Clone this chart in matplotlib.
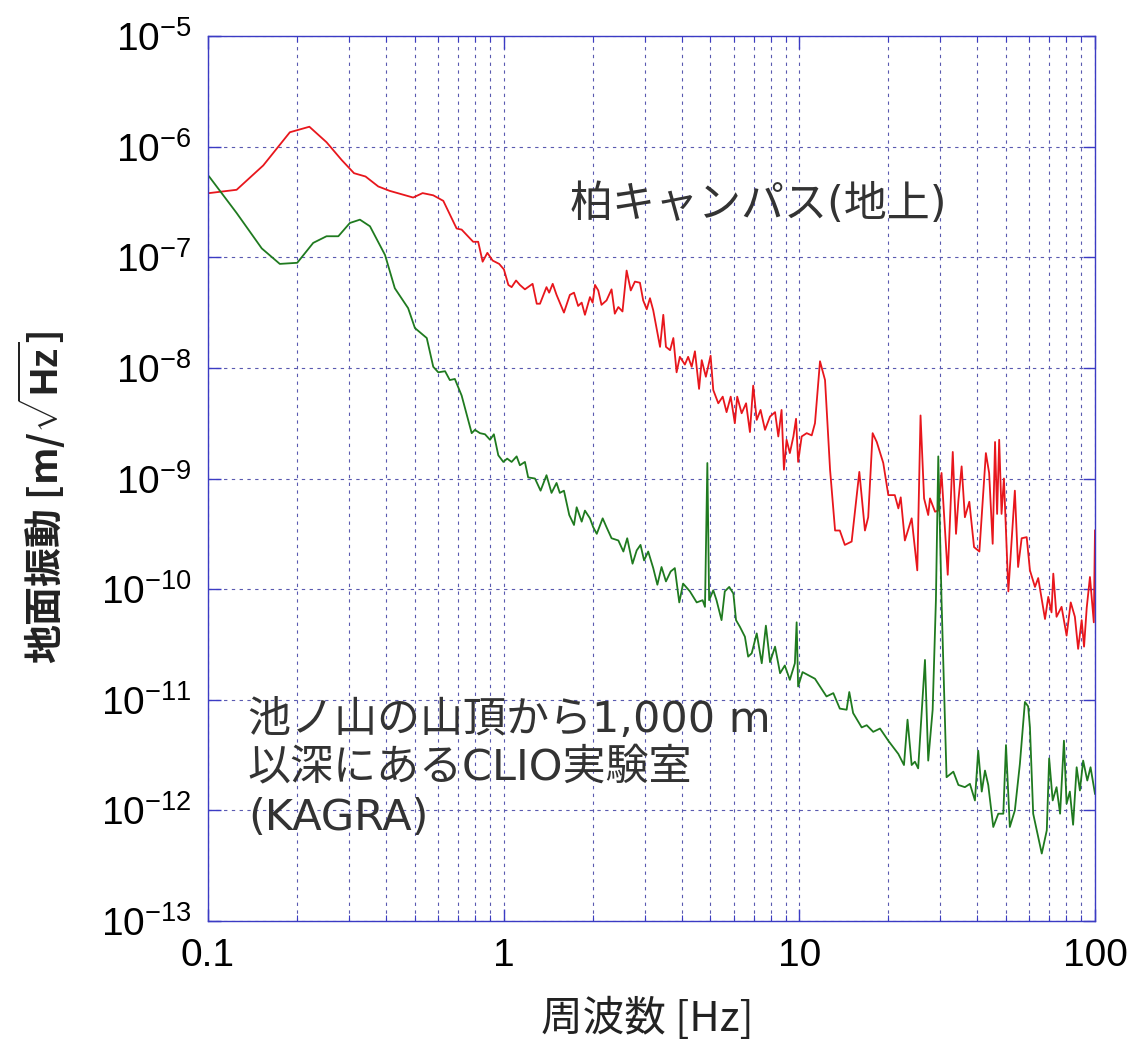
import numpy as np
import matplotlib.pyplot as plt
from matplotlib.ticker import FixedLocator, FuncFormatter, LogLocator, NullLocator, LogFormatterSciNotation

# ground vibration spectra (log10 of frequency [Hz], log10 of ASD [m/rtHz])
kashiwa_log10_f = [-0.996, -0.903, -0.813, -0.723, -0.657, -0.599, -0.548, -0.506, -0.467, -0.424,
                   -0.385, -0.306, -0.274, -0.238, -0.204, -0.159, -0.142, -0.103, -0.086, -0.071,
                   -0.055, -0.037, -0.015, 0.001, 0.016, 0.027, 0.042, 0.055, 0.072, 0.098,
                   0.112, 0.123, 0.145, 0.154, 0.166, 0.179, 0.204, 0.224, 0.238, 0.252,
                   0.264, 0.275, 0.292, 0.301, 0.309, 0.320, 0.331, 0.348, 0.365, 0.376,
                   0.388, 0.402, 0.416, 0.430, 0.444, 0.461, 0.472, 0.484, 0.495, 0.506,
                   0.529, 0.540, 0.549, 0.563, 0.574, 0.585, 0.596, 0.613, 0.624, 0.636,
                   0.647, 0.661, 0.670, 0.684, 0.700, 0.709, 0.726, 0.741, 0.754, 0.768,
                   0.782, 0.790, 0.805, 0.820, 0.833, 0.844, 0.856, 0.869, 0.884, 0.901,
                   0.918, 0.929, 0.940, 0.948, 0.957, 0.968, 0.980, 0.989, 0.996, 1.008,
                   1.025, 1.042, 1.053, 1.070, 1.087, 1.104, 1.121, 1.137, 1.154, 1.177,
                   1.203, 1.222, 1.233, 1.248, 1.262, 1.284, 1.301, 1.323, 1.335, 1.343,
                   1.357, 1.380, 1.399, 1.410, 1.422, 1.436, 1.442, 1.459, 1.470, 1.481,
                   1.502, 1.519, 1.530, 1.538, 1.549, 1.560, 1.575, 1.591, 1.609, 1.631,
                   1.642, 1.654, 1.662, 1.669, 1.676, 1.684, 1.692, 1.707, 1.729, 1.740,
                   1.752, 1.769, 1.780, 1.797, 1.808, 1.831, 1.842, 1.853, 1.859, 1.870,
                   1.887, 1.904, 1.918, 1.932, 1.943, 1.955, 1.963, 1.972, 1.983, 1.996,
                   2.000]
kashiwa_log10_asd = [-6.42, -6.39, -6.17, -5.87, -5.82, -5.96, -6.12, -6.24, -6.27, -6.36,
                     -6.40, -6.46, -6.42, -6.44, -6.49, -6.74, -6.75, -6.86, -6.86, -7.04,
                     -6.96, -7.03, -7.06, -7.11, -7.25, -7.27, -7.21, -7.25, -7.29, -7.24,
                     -7.42, -7.42, -7.27, -7.32, -7.24, -7.34, -7.50, -7.34, -7.32, -7.44,
                     -7.41, -7.52, -7.36, -7.41, -7.25, -7.30, -7.43, -7.39, -7.29, -7.51,
                     -7.45, -7.49, -7.12, -7.30, -7.22, -7.23, -7.39, -7.47, -7.37, -7.48,
                     -7.81, -7.52, -7.81, -7.84, -7.73, -8.04, -7.90, -7.97, -7.90, -7.99,
                     -7.85, -8.19, -7.93, -8.08, -7.89, -8.20, -8.32, -8.26, -8.40, -8.26,
                     -8.50, -8.26, -8.41, -8.32, -8.58, -8.16, -8.47, -8.38, -8.56, -8.44,
                     -8.40, -8.62, -8.38, -8.92, -8.65, -8.77, -8.62, -8.46, -8.85, -8.62,
                     -8.59, -8.61, -8.50, -7.94, -8.11, -8.92, -9.47, -9.47, -9.60, -9.57,
                     -8.94, -9.47, -9.35, -8.59, -8.67, -8.86, -9.15, -9.15, -9.27, -9.17,
                     -9.56, -9.36, -9.83, -8.43, -9.18, -9.33, -9.18, -9.30, -9.29, -8.95,
                     -9.87, -8.76, -9.50, -9.20, -8.89, -9.35, -9.21, -9.62, -9.66, -8.77,
                     -8.95, -9.59, -8.67, -9.32, -8.65, -9.32, -9.00, -10.02, -9.11, -9.80,
                     -9.54, -9.53, -9.83, -9.98, -9.90, -10.27, -10.07, -10.21, -9.86, -10.25,
                     -10.16, -10.42, -10.12, -10.25, -10.54, -10.28, -10.52, -10.17, -9.89, -10.30,
                     -9.47]

kagra_log10_f = [-0.996, -0.903, -0.818, -0.757, -0.698, -0.644, -0.599, -0.559, -0.520, -0.486,
                 -0.452, -0.401, -0.368, -0.323, -0.300, -0.260, -0.238, -0.221, -0.198, -0.182,
                 -0.165, -0.142, -0.108, -0.097, -0.080, -0.063, -0.046, -0.033, -0.018, -0.001,
                 0.012, 0.027, 0.044, 0.055, 0.072, 0.083, 0.106, 0.125, 0.145, 0.162,
                 0.179, 0.190, 0.204, 0.222, 0.238, 0.247, 0.264, 0.275, 0.292, 0.303,
                 0.315, 0.335, 0.348, 0.365, 0.388, 0.405, 0.418, 0.436, 0.450, 0.463,
                 0.475, 0.489, 0.506, 0.520, 0.534, 0.549, 0.565, 0.579, 0.594, 0.607,
                 0.630, 0.653, 0.673, 0.681, 0.689, 0.695, 0.709, 0.720, 0.737, 0.748,
                 0.763, 0.777, 0.786, 0.799, 0.816, 0.827, 0.839, 0.856, 0.873, 0.887,
                 0.901, 0.918, 0.935, 0.951, 0.968, 0.985, 0.991, 0.996, 1.011, 1.053,
                 1.092, 1.115, 1.137, 1.160, 1.169, 1.182, 1.211, 1.228, 1.250, 1.273,
                 1.301, 1.318, 1.335, 1.354, 1.366, 1.380, 1.391, 1.402, 1.425, 1.436,
                 1.451, 1.462, 1.470, 1.481, 1.498, 1.521, 1.538, 1.560, 1.577, 1.594,
                 1.605, 1.617, 1.628, 1.639, 1.656, 1.673, 1.690, 1.699, 1.712, 1.729,
                 1.746, 1.763, 1.774, 1.780, 1.791, 1.808, 1.820, 1.837, 1.845, 1.857,
                 1.870, 1.882, 1.895, 1.904, 1.915, 1.926, 1.938, 1.949, 1.960, 1.974,
                 1.985, 2.000]
kagra_log10_asd = [-6.27, -6.60, -6.92, -7.06, -7.05, -6.87, -6.81, -6.81, -6.69, -6.66,
                   -6.72, -6.98, -7.28, -7.46, -7.64, -7.73, -7.99, -8.04, -8.03, -8.11,
                   -8.10, -8.25, -8.59, -8.56, -8.59, -8.60, -8.65, -8.60, -8.79, -8.85,
                   -8.82, -8.85, -8.80, -8.88, -8.85, -8.99, -9.00, -9.11, -8.97, -9.13,
                   -9.04, -9.13, -9.11, -9.33, -9.42, -9.26, -9.39, -9.29, -9.36, -9.44,
                   -9.50, -9.36, -9.44, -9.54, -9.56, -9.66, -9.54, -9.77, -9.65, -9.60,
                   -9.74, -9.66, -9.81, -9.96, -9.80, -9.93, -9.84, -9.81, -10.12, -9.95,
                   -10.02, -10.12, -10.10, -10.16, -8.86, -10.10, -10.01, -10.10, -10.28, -10.02,
                   -9.98, -10.04, -10.28, -10.34, -10.43, -10.61, -10.58, -10.40, -10.67, -10.33,
                   -10.66, -10.52, -10.76, -10.69, -10.82, -10.67, -10.30, -10.88, -10.75, -10.81,
                   -10.97, -10.94, -11.08, -11.09, -10.93, -11.12, -11.25, -11.23, -11.29, -11.26,
                   -11.37, -11.43, -11.49, -11.59, -11.18, -11.59, -11.56, -11.62, -10.64, -11.55,
                   -11.09, -10.10, -8.80, -10.10, -11.70, -11.65, -11.77, -11.79, -11.76, -11.91,
                   -11.46, -11.83, -11.64, -11.77, -12.15, -12.03, -12.03, -11.41, -12.15, -12.00,
                   -11.58, -11.02, -11.06, -11.25, -12.03, -12.24, -12.39, -12.18, -11.53, -11.91,
                   -11.79, -12.03, -11.37, -11.94, -11.83, -12.13, -11.61, -11.82, -11.55, -11.73,
                   -11.61, -11.85]

x_ticks = [0.1, 1, 10, 100]

# Latin glyphs wide (Verdana-like), kana/kanji from Noto CJK
cjk = ['DejaVu Sans', 'Noto Sans CJK JP']
plt.rcParams['font.family'] = ['Liberation Sans', 'DejaVu Sans']
plt.rcParams['mathtext.fontset'] = 'custom'
plt.rcParams['mathtext.rm'] = 'Liberation Sans'
plt.rcParams['mathtext.bf'] = 'Liberation Sans:bold'

frame_col = '#3b3bc4'
grid_col = '#5a5ab0'

fig = plt.figure(figsize=(11.32, 10.44), dpi=100)
ax = fig.add_axes([0.1837, 0.1178, 0.7836, 0.8477])

ax.loglog(10 ** np.array(kashiwa_log10_f), 10 ** np.array(kashiwa_log10_asd),
          color='#e8161c', lw=1.3)
ax.loglog(10 ** np.array(kagra_log10_f), 10 ** np.array(kagra_log10_asd),
          color='#1f7a1f', lw=1.3)

ax.set_xlim(0.1, 100)
ax.set_ylim(1e-13, 1e-5)

ax.xaxis.set_major_locator(FixedLocator(x_ticks))
ax.xaxis.set_minor_locator(LogLocator(base=10, subs=np.arange(2, 10), numticks=20))
ax.xaxis.set_major_formatter(FuncFormatter(lambda v, _: f"{v:g}"))
ax.yaxis.set_major_locator(LogLocator(base=10, numticks=20))
ax.yaxis.set_minor_locator(NullLocator())
ax.yaxis.set_major_formatter(LogFormatterSciNotation())

ax.grid(True, which='both', color=grid_col, linestyle=(0, (3, 4)), lw=0.8)
ax.tick_params(which='both', direction='in', top=True, right=True, color=frame_col)
ax.tick_params(which='major', length=9, width=1, labelsize=28, pad=12)
ax.tick_params(which='minor', length=4, width=0.8)
for s in ax.spines.values():
    s.set_color(frame_col)
    s.set_linewidth(1.0)

ax.text(0.62, 0.809, "柏キャンパス(地上)", transform=ax.transAxes, ha='center', va='center',
        fontsize=31, color='#333333', family=cjk)
ax.text(0.045, 0.227, "池ノ山の山頂から1,000 m", transform=ax.transAxes, ha='left', va='center',
        fontsize=31, color='#333333', family=cjk)
ax.text(0.045, 0.173, "以深にあるCLIO実験室", transform=ax.transAxes, ha='left', va='center',
        fontsize=31, color='#333333', family=cjk)
ax.text(0.045, 0.116, "(KAGRA)", transform=ax.transAxes, ha='left', va='center',
        fontsize=31, color='#333333', family=cjk)

fig.text(0.037, 0.524, r"地面振動 [m/$\sqrt{\mathbf{Hz}}$]", rotation=90, ha='center', va='center',
         fontsize=28, fontweight='bold', color='#222222', family=['Noto Sans CJK JP', 'DejaVu Sans'])
fig.text(0.5716, 0.025, "周波数 [Hz]", ha='center', va='center',
         fontsize=30, color='#222222', family=['Noto Sans CJK JP', 'DejaVu Sans'])

fig.savefig('out.png', dpi=100)
